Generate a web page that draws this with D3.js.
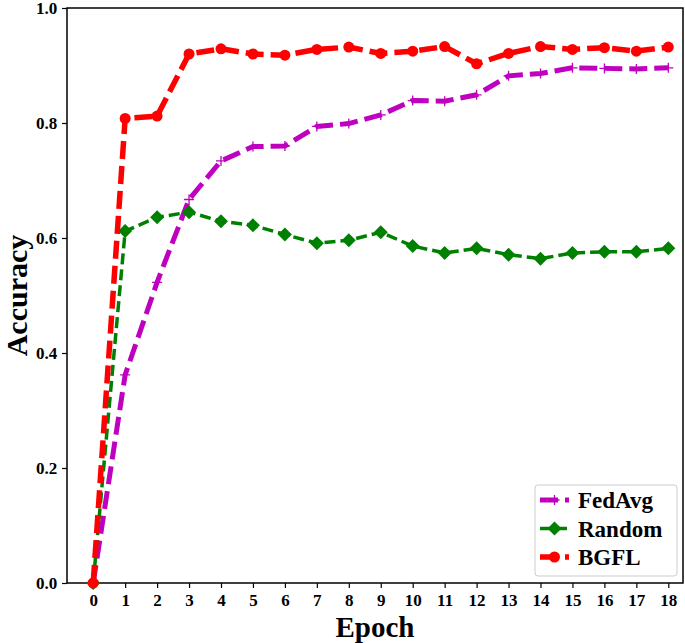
<!DOCTYPE html>
<html>
<head>
<meta charset="utf-8">
<script src="https://cdn.jsdelivr.net/npm/d3@7"></script>
<style>
  body { margin: 0; background: #fff; }
  text { font-family: "Liberation Serif", "DejaVu Serif", serif; font-weight: bold; }
</style>
</head>
<body>
<div id="chart"></div>
<script>
const width = 685;
const height = 643;

// Data
const epochs = d3.range(0, 19);
const fedavg = [0.0, 0.362, 0.523, 0.667, 0.734, 0.759, 0.760, 0.794, 0.799, 0.814,
  0.839, 0.838, 0.849, 0.882, 0.886, 0.896, 0.895, 0.894, 0.896];
const random = [0.0, 0.612, 0.636, 0.645, 0.629, 0.622, 0.606, 0.591, 0.596, 0.610,
  0.586, 0.574, 0.582, 0.571, 0.564, 0.574, 0.576, 0.576, 0.582];
const bgfl = [0.0, 0.808, 0.812, 0.920, 0.929, 0.920, 0.918, 0.928, 0.932, 0.921,
  0.925, 0.933, 0.903, 0.921, 0.933, 0.928, 0.931, 0.925, 0.932];
const yTicks = [0.0, 0.2, 0.4, 0.6, 0.8, 1.0];

const series = [
  { name: "FedAvg", values: fedavg, color: "#bf00bf", width: 5, dash: "18,7", marker: "plus" },
  { name: "Random", values: random, color: "#008000", width: 3.5, dash: "11,5", marker: "diamond" },
  { name: "BGFL", values: bgfl, color: "#ff0000", width: 5.5, dash: "18,7", marker: "circle" }
];

const margin = { left: 67, right: 2, top: 8, bottom: 60 };

const x = d3.scaleLinear()
  .domain([-0.82, 18.46])
  .range([margin.left, width - margin.right]);

const y = d3.scaleLinear()
  .domain([0, 1])
  .range([height - margin.bottom, margin.top]);

const svg = d3.select("#chart").append("svg")
  .attr("width", width)
  .attr("height", height);

// Axes
const xAxis = svg.append("g")
  .attr("transform", `translate(0,${y(0)})`)
  .call(d3.axisBottom(x).tickValues(epochs).tickFormat(d3.format("d")).tickSize(5).tickSizeOuter(0));

const yAxis = svg.append("g")
  .attr("transform", `translate(${margin.left},0)`)
  .call(d3.axisLeft(y).tickValues(yTicks).tickFormat(d3.format(".1f")).tickSize(5).tickSizeOuter(0));

[xAxis, yAxis].forEach(a => {
  a.select(".domain").remove();
  a.selectAll(".tick line").attr("stroke", "#000").attr("stroke-width", 1.2);
  a.selectAll(".tick text").attr("fill", "#000").style("font-size", "17px");
});
xAxis.selectAll(".tick text").attr("dy", "0.9em");
yAxis.selectAll(".tick text").attr("dx", "-0.1em");

// Frame
svg.append("rect")
  .attr("x", margin.left)
  .attr("y", margin.top)
  .attr("width", x.range()[1] - margin.left)
  .attr("height", y(0) - margin.top)
  .attr("fill", "none")
  .attr("stroke", "#000")
  .attr("stroke-width", 1.5);

// Lines
const line = d3.line()
  .x((d, i) => x(epochs[i]))
  .y(d => y(d));

function drawMarker(g, type, color, cx, cy) {
  if (type === "circle") {
    g.append("circle").attr("cx", cx).attr("cy", cy).attr("r", 5.5).attr("fill", color);
  } else if (type === "diamond") {
    const s = 7;
    g.append("path")
      .attr("d", `M${cx},${cy - s}L${cx + s},${cy}L${cx},${cy + s}L${cx - s},${cy}Z`)
      .attr("fill", color);
  } else {
    const s = 5;
    g.append("path")
      .attr("d", `M${cx - s},${cy}H${cx + s}M${cx},${cy - s}V${cy + s}`)
      .attr("stroke", color)
      .attr("stroke-width", 1.3);
  }
}

series.forEach(s => {
  const g = svg.append("g");
  g.append("path")
    .datum(s.values)
    .attr("d", line)
    .attr("fill", "none")
    .attr("stroke", s.color)
    .attr("stroke-width", s.width)
    .attr("stroke-dasharray", s.dash);
  s.values.forEach((v, i) => drawMarker(g, s.marker, s.color, x(epochs[i]), y(v)));
});

// Legend
const legend = svg.append("g").attr("transform", "translate(535,485)");
legend.append("rect")
  .attr("width", 142)
  .attr("height", 91)
  .attr("rx", 3)
  .attr("fill", "#fff")
  .attr("fill-opacity", 0.8)
  .attr("stroke", "#ccc")
  .attr("stroke-width", 1);

series.forEach((s, i) => {
  const cy = 15 + i * 28.5;
  const g = legend.append("g");
  g.append("line")
    .attr("x1", 5).attr("x2", 34)
    .attr("y1", cy).attr("y2", cy)
    .attr("stroke", s.color)
    .attr("stroke-width", s.width)
    .attr("stroke-dasharray", s.dash);
  drawMarker(g, s.marker, s.color, 19.5, cy);
  g.append("text")
    .attr("x", 43)
    .attr("y", cy)
    .attr("dy", "0.35em")
    .style("font-size", "23px")
    .attr("fill", "#000")
    .text(s.name);
});

// Axis titles
svg.append("text")
  .attr("x", (margin.left + x.range()[1]) / 2)
  .attr("y", 637)
  .attr("text-anchor", "middle")
  .style("font-size", "29px")
  .text("Epoch");

svg.append("text")
  .attr("transform", `translate(27,${(margin.top + y(0)) / 2}) rotate(-90)`)
  .attr("text-anchor", "middle")
  .style("font-size", "30px")
  .text("Accuracy");
</script>
</body>
</html>
